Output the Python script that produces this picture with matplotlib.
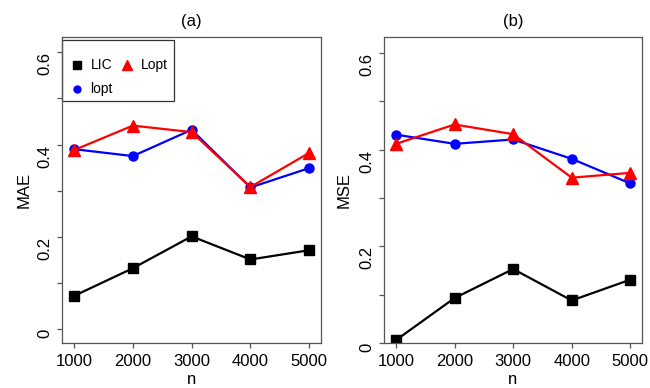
import matplotlib
matplotlib.use('Agg')
import matplotlib.pyplot as plt
from matplotlib.patches import Rectangle

plt.rcParams['font.family'] = ['Liberation Sans', 'DejaVu Sans']

n = [1000, 2000, 3000, 4000, 5000]

# panel (a) MAE
mae_lic = [0.072, 0.132, 0.201, 0.151, 0.171]
mae_lopt_small = [0.390, 0.375, 0.432, 0.307, 0.349]
mae_lopt = [0.388, 0.441, 0.427, 0.308, 0.382]

# panel (b) MSE
mse_lic = [0.006, 0.093, 0.153, 0.088, 0.131]
mse_lopt_small = [0.431, 0.412, 0.421, 0.381, 0.330]
mse_lopt = [0.412, 0.452, 0.432, 0.342, 0.352]

yticks = [0, 0.1, 0.2, 0.3, 0.4, 0.5, 0.6]
ylabels = ['0', '', '0.2', '', '0.4', '', '0.6']

fig = plt.figure(figsize=(6.5, 3.88), dpi=100)
# axes boxes in pixels: (a) 62..321, (b) 384..642, y 37..343
ax1 = fig.add_axes([62 / 650, 45 / 388, 259 / 650, 306 / 388])
ax2 = fig.add_axes([384 / 650, 45 / 388, 258 / 650, 306 / 388])

def draw(ax, lic, lsmall, lbig, ylab, title, ylim, labx):
    ax.plot(n, lic, color='black', lw=1.6, marker='s', ms=7.5, label='LIC')
    ax.plot(n, lsmall, color='blue', lw=1.6, marker='o', ms=6.5, label='lopt')
    ax.plot(n, lbig, color='red', lw=1.6, marker='^', ms=8, label='Lopt')
    ax.set_xlim(795, 5200)
    ax.set_ylim(*ylim)
    ax.set_xticks(n)
    ax.set_yticks(yticks)
    ax.set_yticklabels(ylabels, rotation=90, va='top')
    ax.tick_params(direction='out', length=3.6, width=0.9, color='#555555', labelsize=12)
    ax.tick_params(axis='x', pad=4.5)
    ax.tick_params(axis='y', pad=3)
    for s in ax.spines.values():
        s.set_color('#555555')
        s.set_linewidth(0.9)
    ax.set_xlabel('n', fontsize=12, labelpad=2)
    ax.set_ylabel(ylab, fontsize=12)
    ax.yaxis.set_label_coords(labx, 0.5)
    ax.set_title(title, fontsize=12, pad=8)

draw(ax1, mae_lic, mae_lopt_small, mae_lopt, 'MAE', '(a)', (-0.03, 0.633), -0.116)
draw(ax2, mse_lic, mse_lopt_small, mse_lopt, 'MSE', '(b)', (0, 0.633), -0.124)

# legend: markers only, frame drawn separately
h, l = ax1.get_legend_handles_labels()
sizes = [5.5, 5, 7]
leg_handles = []
for hh, ms in zip(h, sizes):
    leg_handles.append(plt.Line2D([], [], linestyle='none', marker=hh.get_marker(),
                                  color=hh.get_color(), ms=ms))
ax1.legend(leg_handles, l, ncol=2, loc='upper left', bbox_to_anchor=(0.03, 0.93),
           fontsize=10, frameon=False, handlelength=1.0, handletextpad=0.5,
           columnspacing=0.48, borderpad=0, labelspacing=0.72, borderaxespad=0)
ax1.add_patch(Rectangle((0, 0.791), 0.432, 0.199, transform=ax1.transAxes,
                        fill=False, edgecolor='#333333', lw=0.9, clip_on=False))

fig.savefig('out.png', dpi=100)
